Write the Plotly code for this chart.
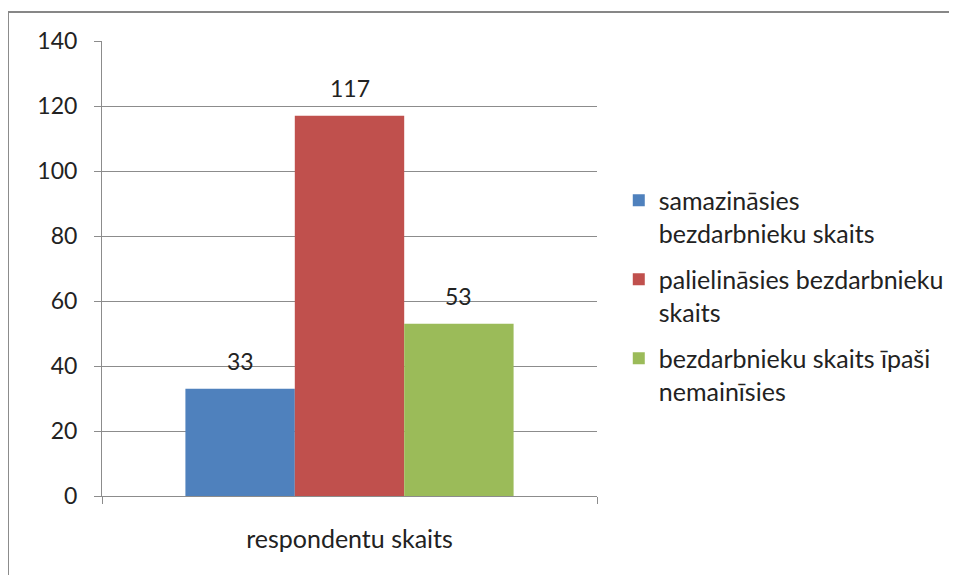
import plotly.graph_objects as go

# data
category = ["respondentu skaits"]
series_names = [
    "samazināsies<br>bezdarbnieku skaits",
    "palielināsies bezdarbnieku<br>skaits",
    "bezdarbnieku skaits īpaši<br>nemainīsies",
]
series_values = [[33], [117], [53]]
series_colors = ["#4F81BD", "#C0504D", "#9BBB59"]
y_ticks = [0, 20, 40, 60, 80, 100, 120, 140]

FONT = "Lato"
TXT = "#222222"
GRID = "#8c8c8c"
BARGAP = 0.337

fig = go.Figure()
for i, (name, vals, col) in enumerate(zip(series_names, series_values, series_colors)):
    fig.add_trace(go.Bar(
        x=category, y=vals, name=name, legendgroup="g%d" % i,
        marker=dict(color=col, line=dict(width=0)),
    ))

# value labels sitting a bit above each bar (Excel style)
n = len(series_values)
w = (1 - BARGAP) / n
for i, vals in enumerate(series_values):
    xpos = -(1 - BARGAP) / 2 + w * (i + 0.5)
    fig.add_annotation(x=xpos, y=vals[0], xref="x", yref="y",
                       text=str(vals[0]), showarrow=False,
                       yanchor="bottom", yshift=12,
                       font=dict(family=FONT, size=23, color=TXT))

fig.update_layout(
    width=957, height=575,
    margin=dict(l=94, r=368, t=33, b=87),
    paper_bgcolor="white", plot_bgcolor="white",
    barmode="group", bargap=BARGAP, bargroupgap=0,
    font=dict(family=FONT, size=22, color=TXT),
    showlegend=True,
    legend=dict(x=1.044, y=0.70, xanchor="left", yanchor="top",
                itemwidth=30, tracegroupgap=11, valign="top",
                font=dict(family=FONT, size=25, color=TXT),
                bgcolor="rgba(0,0,0,0)"),
)
fig.update_xaxes(
    showline=True, linecolor=GRID, linewidth=1,
    ticks="outside", tickson="boundaries", ticklen=7, tickcolor=GRID,
    ticklabelstandoff=21, tickfont=dict(family=FONT, size=25, color=TXT),
    showgrid=False,
)
fig.update_yaxes(
    range=[0, 140], tickvals=y_ticks,
    showline=True, linecolor=GRID, linewidth=1,
    ticks="outside", ticklen=7, tickcolor=GRID,
    showgrid=True, gridcolor=GRID, gridwidth=1,
    zeroline=False, ticklabelstandoff=12,
    tickfont=dict(family=FONT, size=23, color=TXT),
)
# chart frame (only left and top edges are visible in the crop)
fig.add_shape(type="rect", xref="paper", yref="paper",
              x0=-0.19, x1=2, y0=-1, y1=1.0637,
              line=dict(color="#878787", width=2), layer="below")

fig.write_html("out.html")
